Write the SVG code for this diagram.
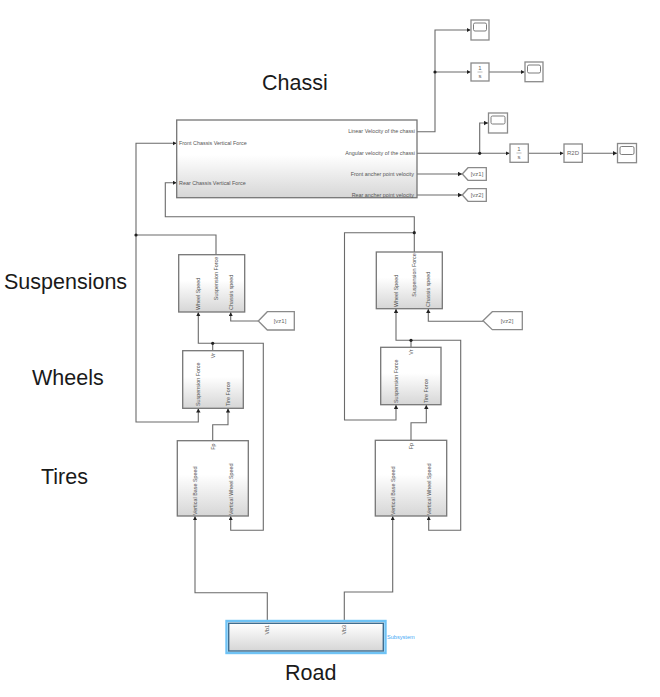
<svg xmlns="http://www.w3.org/2000/svg" width="660" height="697" viewBox="0 0 660 697">
<style>
text{font-family:"Liberation Sans",Arial,sans-serif}
.big{font-size:21.5px;fill:#1a1a1a}
.s{font-size:5.4px;fill:#555}
.g{font-size:6px;fill:#666}
.m{text-anchor:middle}
.e{text-anchor:end}
.blk{fill:url(#grad);stroke:#767676;stroke-width:1.3}
.plain{fill:#fff;stroke:#8a8a8a;stroke-width:1.3}
.scr{fill:#fff;stroke:#6e6e6e;stroke-width:.9}
.w{fill:none;stroke:#6a6a6a;stroke-width:1.1}
.a{marker-end:url(#ah)}
</style>
<defs>
<linearGradient id="grad" x1="0" y1="0" x2="0" y2="1"><stop offset=".45" stop-color="#fff"/><stop offset="1" stop-color="#d6d6d6"/></linearGradient>
<linearGradient id="grad2" x1="0" y1="0" x2="0" y2="1"><stop offset="0" stop-color="#fff"/><stop offset="1" stop-color="#d6d6d6"/></linearGradient>
<marker id="ah" markerUnits="userSpaceOnUse" markerWidth="5" markerHeight="5" refX="4" refY="2.2" orient="auto"><path d="M0 0L4 2.2L0 4.4Z" fill="#222"/></marker>
</defs>
<g id="connectors">
<path class="w a" d="M417 131.7H435V30H470.5"/>
<path class="w a" d="M435 72H470.5"/>
<path class="w a" d="M489 72H524.5"/>
<path class="w a" d="M417 153.3H509.5"/>
<path class="w a" d="M479.7 153.3V123H488"/>
<path class="w a" d="M528.5 153.3H563.5"/>
<path class="w a" d="M582.5 153.3H617"/>
<path class="w a" d="M417 174H462"/>
<path class="w a" d="M417 195H462"/>
<path class="w a" d="M216 254.7V235H136V143.3H176.5"/>
<path class="w a" d="M136 235V422H198.3V408.5"/>
<path class="w a" d="M414.3 252V216.7H165.3V182.7H176.5"/>
<path class="w a" d="M414.3 232.7H344.5V420H396V405"/>
<path class="w a" d="M258 321H230.7V312.3"/>
<path class="w a" d="M483 321.3H428.3V309"/>
<path class="w a" d="M212.7 350.7V343.3H198.3V312.3"/>
<path class="w a" d="M212.7 343.3H263.3V530.3H230.7V516.3"/>
<path class="w a" d="M411 347.3V340.3H396V309"/>
<path class="w a" d="M411 340.3H460.7V530.3H428.7V516.3"/>
<path class="w a" d="M212.7 440.7V424.7H228V408.5"/>
<path class="w a" d="M411 440.3V422.7H426.3V405"/>
<path class="w a" d="M267.3 623V592.7H195V516.3"/>
<path class="w a" d="M344.3 623V592H392.7V516.3"/>
<g fill="#222"><circle cx="435" cy="72" r="1.6"/><circle cx="479.7" cy="153.3" r="1.6"/><circle cx="136" cy="235" r="1.6"/><circle cx="414.3" cy="232.7" r="1.6"/><circle cx="212.7" cy="343.3" r="1.6"/><circle cx="411" cy="340.3" r="1.6"/></g>
</g>
<g id="chassis"><rect class="blk" x="176.7" y="120" width="240.3" height="77.7"/>
<text class="s" x="179" y="145.2">Front Chassis Vertical Force</text>
<text class="s" x="179" y="184.6">Rear Chassis Vertical Force</text>
<text class="s e" x="415" y="133">Linear Velocity of the chassi</text>
<text class="s e" x="415" y="155">Angular velocity of the chassi</text>
<text class="s e" x="414" y="176">Front ancher point velocity</text>
<text class="s e" x="414" y="197">Rear ancher point velocity</text>
</g>
<g id="scope1"><rect class="plain" x="471" y="20" width="18" height="20"/><rect class="scr" x="473.5" y="23" width="13" height="8" rx="1.5"/></g>
<g id="integrator1"><rect class="plain" x="471" y="63" width="18" height="18"/><text class="g m" x="480" y="70">1</text><path d="M477.5 72H482.5" stroke="#777" stroke-width=".5"/><text class="g m" x="480" y="78">s</text></g>
<g id="scope2"><rect class="plain" x="525" y="62" width="18" height="19.7"/><rect class="scr" x="527.5" y="65" width="13" height="8" rx="1.5"/></g>
<g id="scope3"><rect class="plain" x="488.5" y="113" width="19" height="20"/><rect class="scr" x="491" y="116" width="14" height="8" rx="1.5"/></g>
<g id="integrator2"><rect class="plain" x="510" y="144" width="18.3" height="18.3"/><text class="g m" x="519" y="151">1</text><path d="M516.5 153H521.5" stroke="#777" stroke-width=".5"/><text class="g m" x="519" y="159">s</text></g>
<g id="r2d"><rect class="plain" x="564" y="144" width="18.3" height="18.3"/><text class="g m" x="573" y="155">R2D</text></g>
<g id="scope4"><rect class="plain" x="617.5" y="143.5" width="19" height="19.2"/><rect class="scr" x="620" y="146.5" width="14" height="8" rx="1.5"/></g>
<g id="goto-vz1"><path class="plain" d="M462.3 174L468 167.7H486.3V180.3H468Z"/><text class="g m" x="477" y="176">[vz1]</text></g>
<g id="goto-vz2"><path class="plain" d="M462.3 195L468 188.7H486.3V201.3H468Z"/><text class="g m" x="477" y="197">[vz2]</text></g>
<g id="from-vz1"><path class="plain" d="M258.3 321L267.3 311.7H294.3V330H267.3Z"/><text class="g m" x="280" y="323">[vz1]</text></g>
<g id="from-vz2"><path class="plain" d="M483 320.7L492.3 311.7H522.3V329.7H492.3Z"/><text class="g m" x="507" y="323">[vz2]</text></g>
<g id="susp-left"><rect class="blk" x="178.7" y="254.7" width="66" height="57.3"/>
<text class="s" transform="translate(200 310) rotate(-90)">Wheel Speed</text>
<text class="s m" transform="translate(218 278.5) rotate(-90)">Suspension Force</text>
<text class="s" transform="translate(232.7 310) rotate(-90)">Chassis speed</text></g>
<g id="susp-right"><rect class="blk" x="376.3" y="252" width="66" height="56.7"/>
<text class="s" transform="translate(398 307) rotate(-90)">Wheel Speed</text>
<text class="s m" transform="translate(416.3 275) rotate(-90)">Suspension Force</text>
<text class="s" transform="translate(430.3 307) rotate(-90)">Chassis speed</text></g>
<g id="wheel-left"><rect class="blk" x="182.7" y="350.7" width="60.6" height="57.6"/>
<text class="s e" transform="translate(214.7 353) rotate(-90)">Vr</text>
<text class="s" transform="translate(200 406) rotate(-90)">Suspension Force</text>
<text class="s" transform="translate(230 406) rotate(-90)">Tire Force</text></g>
<g id="wheel-right"><rect class="blk" x="380.7" y="347.3" width="60.3" height="57.4"/>
<text class="s e" transform="translate(413 349.5) rotate(-90)">Vr</text>
<text class="s" transform="translate(398 403) rotate(-90)">Suspension Force</text>
<text class="s" transform="translate(428.3 403) rotate(-90)">Tire Force</text></g>
<g id="tire-left"><rect class="blk" x="177.3" y="440.7" width="71" height="75.3"/>
<text class="s e" transform="translate(214.7 443.5) rotate(-90)">Fp</text>
<text class="s" transform="translate(197 515) rotate(-90)">Vertical Base Speed</text>
<text class="s" transform="translate(232.7 515) rotate(-90)">Vertical Wheel Speed</text></g>
<g id="tire-right"><rect class="blk" x="375.3" y="440.3" width="71.4" height="75.7"/>
<text class="s e" transform="translate(413 443) rotate(-90)">Fp</text>
<text class="s" transform="translate(395 515) rotate(-90)">Vertical Base Speed</text>
<text class="s" transform="translate(430.7 515) rotate(-90)">Vertical Wheel Speed</text></g>
<g id="road"><rect x="226.5" y="621" width="159" height="32" fill="#fff" stroke="#6fc3f5" stroke-width="2.4"/>
<rect x="228.7" y="623.3" width="154.6" height="27.7" fill="url(#grad2)" stroke="#3f6d8f" stroke-width="1.4"/>
<text class="s e" transform="translate(269 625) rotate(-90)">Vb1</text>
<text class="s e" transform="translate(346 625) rotate(-90)">Vb3</text>
<text x="387" y="639" style="font-size:5.6px;fill:#3fa9f5">Subsystem</text></g>
<g id="labels">
<text class="big" x="262" y="90">Chassi</text>
<text class="big" x="4" y="289">Suspensions</text>
<text class="big" x="32" y="385">Wheels</text>
<text class="big" x="41" y="484">Tires</text>
<text class="big" x="285" y="680">Road</text>
</g>
</svg>
